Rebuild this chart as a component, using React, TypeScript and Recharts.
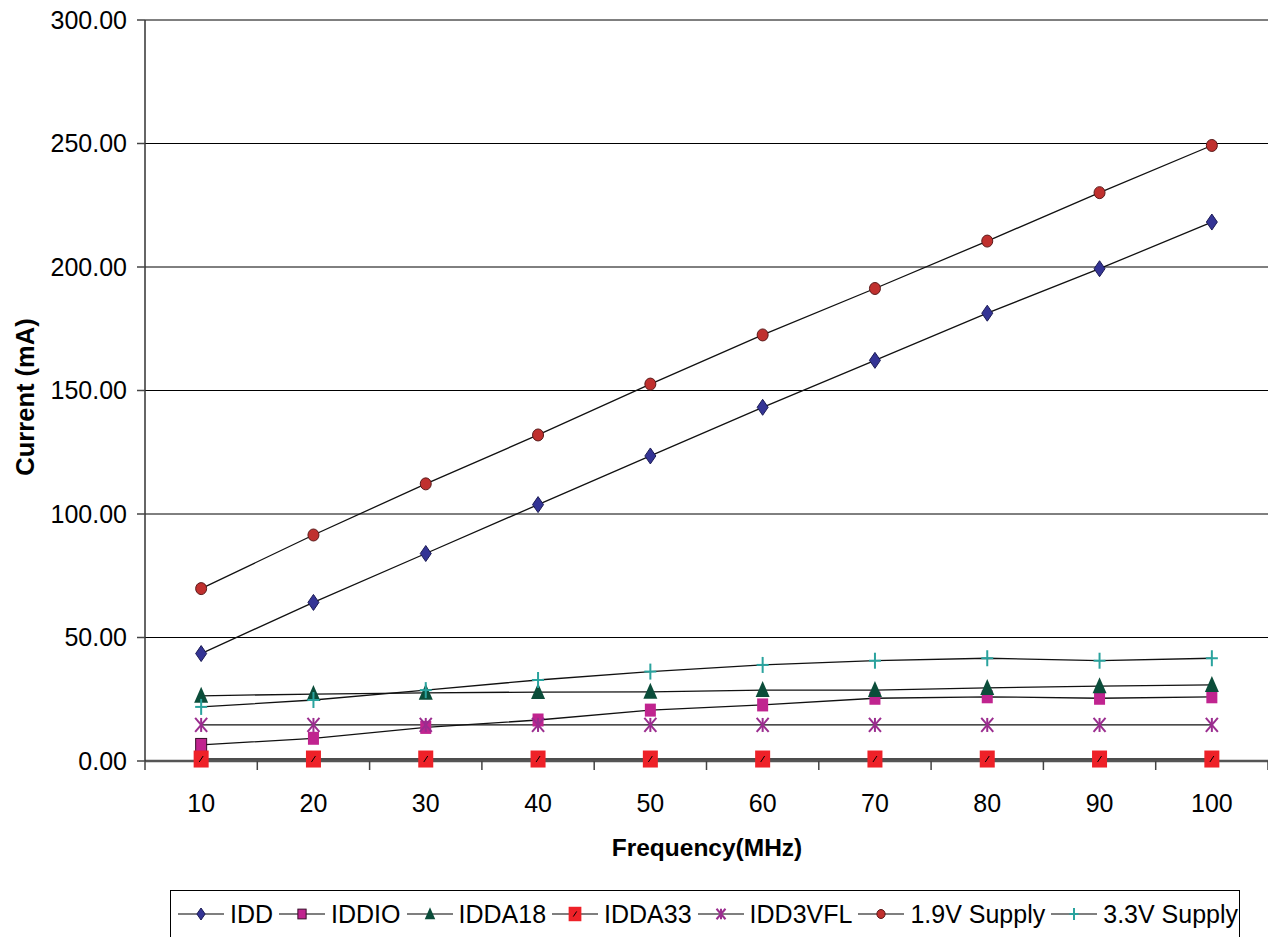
import React from "react";
import { LineChart, Line, XAxis, YAxis, CartesianGrid } from "recharts";

const FREQ = [10, 20, 30, 40, 50, 60, 70, 80, 90, 100];
const IDD = [43.5, 64.2, 84.0, 103.8, 123.5, 143.2, 162.2, 181.3, 199.3, 218.2];
const IDDIO = [6.5, 9.2, 13.6, 16.6, 20.6, 22.7, 25.4, 26.0, 25.4, 26.0];
const IDDA18 = [26.4, 27.1, 27.6, 27.9, 28.0, 28.7, 28.7, 29.6, 30.3, 30.8];
const IDDA33 = [0.8, 0.8, 0.8, 0.8, 0.8, 0.8, 0.8, 0.8, 0.8, 0.8];
const IDD3VFL = [14.6, 14.6, 14.6, 14.6, 14.6, 14.6, 14.6, 14.6, 14.6, 14.6];
const SUPPLY_19 = [69.8, 91.5, 112.2, 132.0, 152.6, 172.5, 191.3, 210.5, 230.1, 249.2];
const SUPPLY_33 = [21.9, 24.7, 28.7, 32.8, 36.2, 38.9, 40.6, 41.6, 40.6, 41.6];

const Y_TICKS = [0, 50, 100, 150, 200, 250, 300];
// category centres carry labels, the in-between values carry the tick marks
const X_TICKS = [5, 10, 15, 20, 25, 30, 35, 40, 45, 50, 55, 60, 65, 70, 75, 80, 85, 90, 95, 100, 105];

const FONT = "'Liberation Sans', Arial, Helvetica, sans-serif";

type Kind = "diamond" | "square" | "triangle" | "redsquare" | "asterisk" | "circle" | "plus";

const SERIES: { key: string; name: string; values: number[]; kind: Kind }[] = [
  { key: "idd", name: "IDD", values: IDD, kind: "diamond" },
  { key: "iddio", name: "IDDIO", values: IDDIO, kind: "square" },
  { key: "idda18", name: "IDDA18", values: IDDA18, kind: "triangle" },
  { key: "idda33", name: "IDDA33", values: IDDA33, kind: "redsquare" },
  { key: "idd3vfl", name: "IDD3VFL", values: IDD3VFL, kind: "asterisk" },
  { key: "v19", name: "1.9V Supply", values: SUPPLY_19, kind: "circle" },
  { key: "v33", name: "3.3V Supply", values: SUPPLY_33, kind: "plus" },
];

const rows = FREQ.map((f, i) => {
  const r: Record<string, number> = { freq: f };
  SERIES.forEach((s) => (r[s.key] = s.values[i]));
  return r;
});

function marker(kind: Kind, cx: number, cy: number, k = 1, key?: string, outline = false) {
  switch (kind) {
    case "diamond":
      return (
        <polygon key={key} points={`${cx},${cy - 8 * k} ${cx + 5.5 * k},${cy} ${cx},${cy + 8 * k} ${cx - 5.5 * k},${cy}`}
          fill="#343495" stroke="#1c1c55" strokeWidth={1} />
      );
    case "square":
      return (
        <rect key={key} x={cx - 5.5 * k} y={cy - 6.5 * k} width={11 * k} height={13 * k} fill="#C0248F"
          stroke={outline ? "#3a0f2c" : "none"} strokeWidth={1} />
      );
    case "triangle":
      return (
        <polygon key={key} points={`${cx},${cy - 9 * k} ${cx + 7 * k},${cy + 7 * k} ${cx - 7 * k},${cy + 7 * k}`} fill="#0B4D3A" />
      );
    case "redsquare":
      return (
        <g key={key}>
          <rect x={cx - 7.5 * k} y={cy - 8.5 * k} width={15 * k} height={17 * k} fill="#EE2128" />
          <line x1={cx - 2 * k} y1={cy + 3 * k} x2={cx + 2 * k} y2={cy - 3 * k} stroke="#000" strokeWidth={1} />
        </g>
      );
    case "asterisk":
      return (
        <g key={key} stroke="#9B2D8F" strokeWidth={2}>
          <line x1={cx - 6 * k} y1={cy - 7 * k} x2={cx + 6 * k} y2={cy + 7 * k} />
          <line x1={cx + 6 * k} y1={cy - 7 * k} x2={cx - 6 * k} y2={cy + 7 * k} />
          <line x1={cx} y1={cy - 7 * k} x2={cx} y2={cy + 7 * k} />
        </g>
      );
    case "circle":
      return <ellipse key={key} cx={cx} cy={cy} rx={5.5 * k} ry={6 * k} fill="#C0302E" stroke="#5a1a1a" strokeWidth={1} />;
    case "plus":
      return (
        <g key={key} stroke="#2AA39E" strokeWidth={2}>
          <line x1={cx - 6 * k} y1={cy} x2={cx + 6 * k} y2={cy} />
          <line x1={cx} y1={cy - 8 * k} x2={cx} y2={cy + 8 * k} />
        </g>
      );
  }
}

function FreqTick(props: any) {
  const { x, y, payload } = props;
  const v = payload.value as number;
  if (v % 10 === 5) {
    return <line x1={x} x2={x} y1={y} y2={y + 9} stroke="#444" strokeWidth={1.5} />;
  }
  return (
    <text x={x} y={y + 51} textAnchor="middle" fontSize={25} fontFamily={FONT} fill="#000">
      {v}
    </text>
  );
}

function LegendBox() {
  return (
    <div
      style={{
        position: "absolute",
        left: 170,
        top: 890,
        width: 1070,
        height: 60,
        border: "1px solid #000",
        background: "#fff",
        display: "flex",
        alignItems: "flex-start",
        paddingLeft: 7,
        paddingTop: 8,
        boxSizing: "border-box",
        fontFamily: FONT,
        fontSize: 25,
        color: "#000",
      }}
    >
      {SERIES.map((s) => (
        <div key={s.key} style={{ display: "flex", alignItems: "center", marginRight: 6 }}>
          <svg width={46} height={30} style={{ display: "block" }}>
            <line x1={0} x2={46} y1={15} y2={15} stroke="#000" strokeWidth={1.2} />
            {marker(s.kind, 23, 15, s.kind === "redsquare" ? 0.85 : 0.75, undefined, true)}
          </svg>
          <span style={{ marginLeft: 6, lineHeight: "30px", whiteSpace: "nowrap" }}>{s.name}</span>
        </div>
      ))}
    </div>
  );
}

export default function App() {
  return (
    <div style={{ position: "fixed", left: 0, top: 0, width: 1268, height: 937, overflow: "hidden", background: "#fff" }}>
      <LineChart width={1268} height={937} data={rows} margin={{ top: 20, right: 0, left: 0, bottom: 76 }}>
        <CartesianGrid horizontal vertical={false} stroke="#000" strokeWidth={1} />
        <XAxis
          type="number"
          dataKey="freq"
          domain={[5, 105]}
          ticks={X_TICKS}
          interval={0}
          tickSize={0}
          tickMargin={0}
          tickLine={false}
          axisLine={{ stroke: "#555", strokeWidth: 2.5 }}
          tick={<FreqTick />}
          height={100}
          label={{
            content: () => (
              <text x={707} y={856} textAnchor="middle" fontSize={24.5} fontWeight="bold" fontFamily={FONT} fill="#000">
                Frequency(MHz)
              </text>
            ),
          }}
        />
        <YAxis
          type="number"
          domain={[0, 300]}
          ticks={Y_TICKS}
          interval={0}
          width={145}
          tickSize={8}
          tickMargin={10}
          tickLine={{ stroke: "#444", strokeWidth: 1.5 }}
          axisLine={{ stroke: "#333", strokeWidth: 1.5 }}
          tick={{ fontSize: 25, fill: "#000", fontFamily: FONT }}
          tickFormatter={(v: number) => v.toFixed(2)}
          label={{
            content: () => (
              <text transform="translate(34,397) rotate(-90)" textAnchor="middle" fontSize={25.5} fontWeight="bold" fontFamily={FONT} fill="#000">
                Current (mA)
              </text>
            ),
          }}
        />
        {SERIES.map((s) => (
          <Line
            key={s.key}
            dataKey={s.key}
            name={s.name}
            stroke="#111"
            strokeWidth={1.3}
            isAnimationActive={false}
            activeDot={false}
            dot={(p: any) => marker(s.kind, p.cx, p.cy, 1, `${s.key}-${p.index}`, s.kind === "square" && p.index === 0) as any}
          />
        ))}
      </LineChart>
      <LegendBox />
    </div>
  );
}
